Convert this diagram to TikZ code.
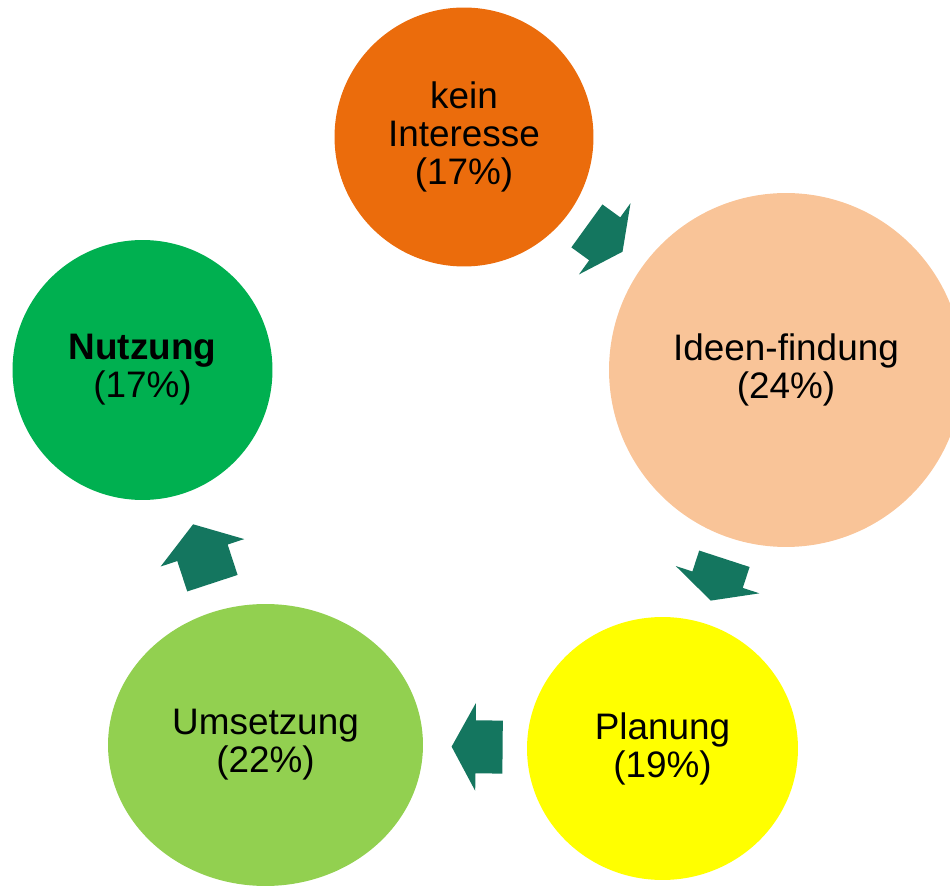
\documentclass[tikz,border=0pt]{standalone}
\usepackage{fontspec}
\setmainfont{Liberation Sans}
\usepackage{xcolor}
\usetikzlibrary{shapes.geometric}

\definecolor{stageorange}{RGB}{235,108,12}
\definecolor{stagepeach}{RGB}{249,196,152}
\definecolor{stageyellow}{RGB}{255,255,0}
\definecolor{stagelime}{RGB}{146,208,80}
\definecolor{stagegreen}{RGB}{0,176,80}
\definecolor{flowteal}{RGB}{20,118,95}

\begin{document}
\begin{tikzpicture}[
  x=0.02cm, y=-0.02cm,
  font=\fontsize{21}{21.6}\selectfont,
  stage/.style={ellipse, inner sep=0pt, align=center, execute at begin node=\rule{0pt}{20pt}},
  flow/.style={fill=flowteal},
  pics/cycarrow/.style 2 args={code={
    \fill[flow] ({-#1/2},-26.5) -- ({#1/2-#2},-26.5) -- ({#1/2-#2},-44) -- ({#1/2},0)
      -- ({#1/2-#2},44) -- ({#1/2-#2},26.5) -- ({-#1/2},26.5) -- cycle;}}
]
\useasboundingbox (0,0) rectangle (950,891);
\clip (0,0) rectangle (950,891);

\node[stage, fill=stageorange, minimum width=5.18cm, minimum height=5.18cm] (kein) at (464,137) {kein\\Interesse\\(17\%)};
\node[stage, fill=stagepeach, minimum width=7.08cm, minimum height=7.08cm] (ideen) at (786,370) {Ideen-findung\\(24\%)};
\node[stage, fill=stageyellow, minimum width=5.42cm, minimum height=5.26cm] (planung) at (662.5,748.5) {Planung\\(19\%)};
\node[stage, fill=stagelime, minimum width=6.3cm, minimum height=5.64cm] (umsetzung) at (265.5,745) {Umsetzung\\(22\%)};
\node[stage, fill=stagegreen, minimum width=5.2cm, minimum height=5.2cm] (nutzung) at (142.5,370) {\textbf{Nutzung}\\(17\%)};

\path (kein.center) -- (ideen.center) pic[pos=0.437, sloped, allow upside down]{cycarrow={44}{22}};
\path (ideen.center) -- (planung.center) pic[pos=0.554, sloped, allow upside down]{cycarrow={44}{22}};
\path (planung.center) -- (umsetzung.center) pic[pos=0.467, sloped, allow upside down]{cycarrow={51}{24}};
\path (umsetzung.center) -- (nutzung.center) pic[pos=0.510, sloped, allow upside down]{cycarrow={62}{30}};
\end{tikzpicture}
\end{document}
